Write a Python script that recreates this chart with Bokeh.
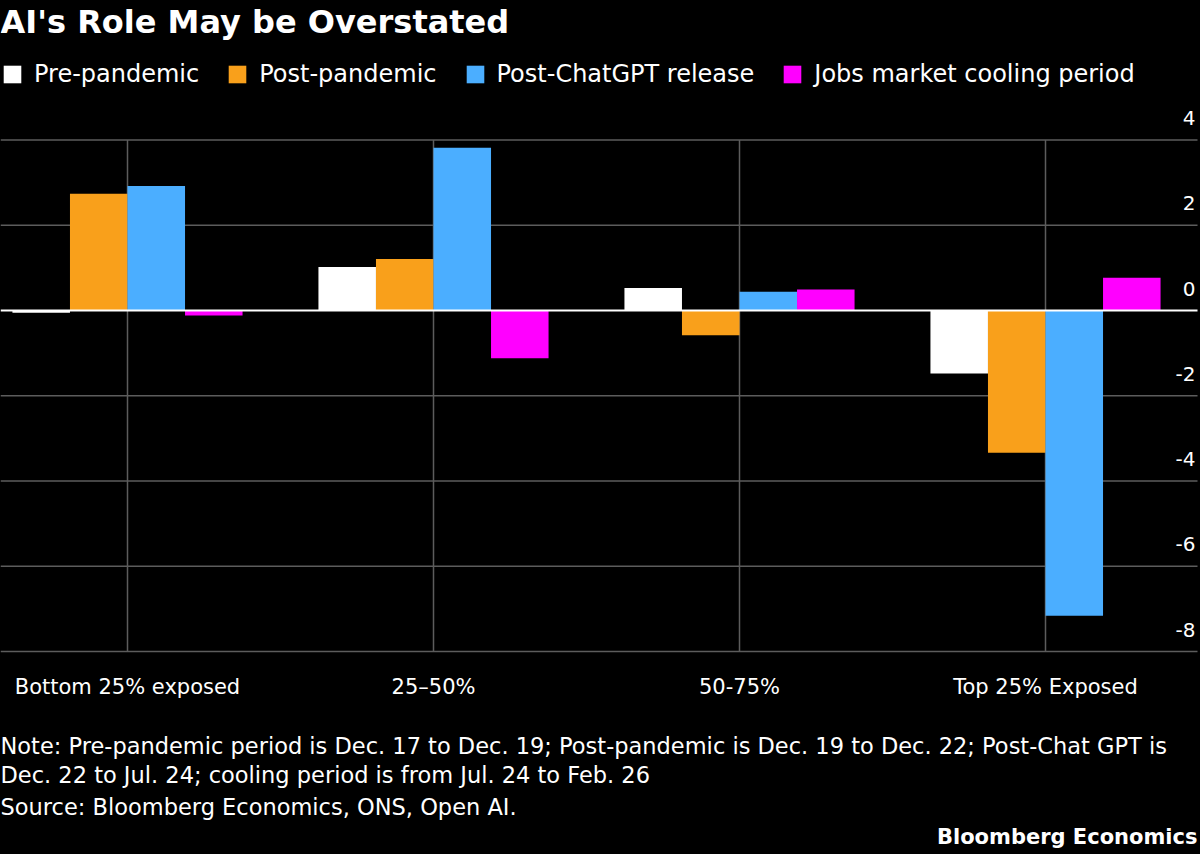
from bokeh.plotting import figure
from bokeh.models import Range1d, ColumnDataSource, Legend, LegendItem
from bokeh.core.properties import value
from bokeh.embed import file_html
from bokeh.resources import INLINE

# ---- data -------------------------------------------------------------
groups = ["Bottom 25% exposed", "25\u201350%", "50-75%", "Top 25% Exposed"]
pre_pandemic = [-0.05, 1.02, 0.53, -1.48]
post_pandemic = [2.74, 1.21, -0.58, -3.34]
post_chatgpt = [2.92, 3.82, 0.44, -7.16]
cooling_period = [-0.12, -1.12, 0.49, 0.77]
series_names = ["Pre-pandemic", "Post-pandemic", "Post-ChatGPT release",
                "Jobs market cooling period"]
series_colors = ["#FFFFFF", "#F9A01B", "#4BAEFF", "#FF00FF"]
y_ticks = [-8, -6, -4, -2, 0, 2, 4]

title_text = "AI's Role May be Overstated"
note_lines = [
    "Note: Pre-pandemic period is Dec. 17 to Dec. 19; Post-pandemic is Dec. 19 to Dec. 22; Post-Chat GPT is",
    "Dec. 22 to Jul. 24; cooling period is from Jul. 24 to Feb. 26",
    "Source: Bloomberg Economics, ONS, Open AI.",
]
brand = "Bloomberg Economics"

# ---- geometry ---------------------------------------------------------
W, H = 1200, 854
PLOT_TOP, PLOT_BOTTOM, PLOT_RIGHT = 139.5, 651.0, 1197.0   # canvas px
Y_MIN, Y_MAX = -8, 4
PX_PER_Y = (PLOT_BOTTOM - PLOT_TOP) / (Y_MAX - Y_MIN)
PX_PER_X = 306.0
X0_PX = 127.0                                             # first group centre
FONT = "DejaVu Sans"
GRID = "#5c5c5c"

x_range = Range1d(-X0_PX / PX_PER_X, (W - X0_PX) / PX_PER_X)
y_range = Range1d(Y_MIN - (H - PLOT_BOTTOM) / PX_PER_Y, Y_MAX + PLOT_TOP / PX_PER_Y)

p = figure(width=W, height=H, output_backend="svg", toolbar_location=None,
           x_range=x_range, y_range=y_range,
           x_axis_location=None, y_axis_location=None,
           min_border_left=0, min_border_right=0, min_border_top=0, min_border_bottom=0,
           background_fill_color="black", border_fill_color="black",
           outline_line_color=None)
p.xgrid.visible = False
p.ygrid.visible = False

# canvas pixel coordinates for the surrounding texts
p.extra_x_ranges = {"px": Range1d(0, W)}
p.extra_y_ranges = {"px": Range1d(H, 0)}

def y_to_px(v):
    return PLOT_TOP + (Y_MAX - v) * PX_PER_Y

# ---- grid lines -------------------------------------------------------
grid_y = [t for t in y_ticks if t != 0]
p.segment(x0=[0] * len(grid_y), x1=[PLOT_RIGHT] * len(grid_y), y0=grid_y, y1=grid_y,
          x_range_name="px", line_color=GRID, line_width=1.5)
n = len(groups)
p.segment(x0=list(range(n)), x1=list(range(n)), y0=[Y_MIN] * n, y1=[Y_MAX] * n,
          line_color=GRID, line_width=1.5)

# ---- bars -------------------------------------------------------------
bar_w = 0.188
series = [pre_pandemic, post_pandemic, post_chatgpt, cooling_period]
items = []
for k, (vals, name, color) in enumerate(zip(series, series_names, series_colors)):
    off = (k - 1.5) * bar_w
    src = ColumnDataSource(dict(x=[i + off for i in range(n)], top=vals))
    r = p.vbar(x="x", top="top", width=bar_w, source=src,
               fill_color=color, line_color=None)
    items.append(LegendItem(label=name, renderers=[r]))

# zero line
p.segment(x0=[0], x1=[PLOT_RIGHT], y0=[0], y1=[0], x_range_name="px",
          line_color="white", line_width=2)

# ---- category labels --------------------------------------------------
p.text(x=list(range(n)), y=[Y_MIN] * n, text=groups, y_offset=35,
       text_align="center", text_baseline="middle", text_font=value(FONT),
       text_font_size="21px", text_color="white")

# ---- value labels sitting above their grid lines -----------------------
p.text(x=[PLOT_RIGHT - 2] * len(y_ticks), y=[y_to_px(t) - 22 for t in y_ticks],
       text=[str(t) for t in y_ticks], x_range_name="px", y_range_name="px",
       text_align="right", text_baseline="middle",
       text_font=value(FONT), text_font_size="20px", text_color="white")

# ---- legend -----------------------------------------------------------
legend = Legend(items=items, orientation="horizontal", location=(1, H - 88),
                glyph_width=22, glyph_height=22, label_standoff=11, spacing=27,
                padding=0, margin=0, border_line_color=None, background_fill_alpha=0,
                label_text_font=FONT, label_text_font_size="24px",
                label_text_color="white", label_height=22)
p.add_layout(legend)

# ---- title, notes, branding --------------------------------------------
def txt(x, y, text, size, bold=False, align="left"):
    p.text(x=[x], y=[y], text=[text], x_range_name="px", y_range_name="px",
           text_font=value(FONT), text_font_size=size,
           text_font_style="bold" if bold else "normal",
           text_color="white", text_align=align, text_baseline="middle")

txt(0, 21, title_text, "32px", bold=True)
txt(0, 745, note_lines[0], "22.5px")
txt(0, 774, note_lines[1], "22.5px")
txt(0, 806, note_lines[2], "22.5px")
txt(PLOT_RIGHT, 836, brand, "21px", bold=True, align="right")

html = file_html(p, INLINE, title="AI's Role May be Overstated")
page_css = "<style>html, body { margin: 0; padding: 0; background: #000000; }</style>"
html = html.replace("</head>", page_css + "\n</head>", 1)
open("out.html", "w").write(html)
